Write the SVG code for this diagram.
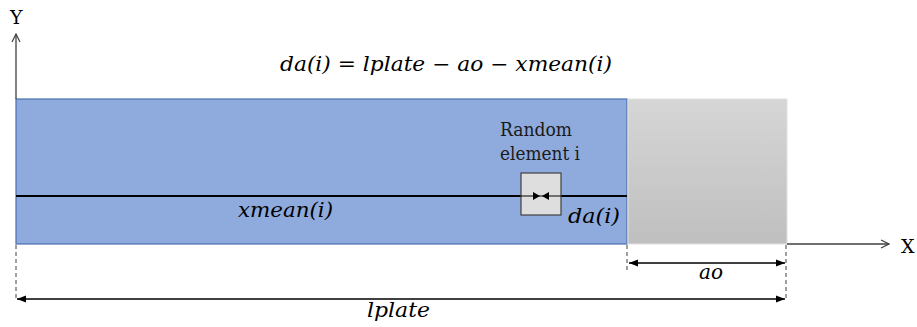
<svg xmlns="http://www.w3.org/2000/svg" width="917" height="327" viewBox="0 0 917 327">
  <defs>
    <linearGradient id="grayGrad" x1="0" y1="0" x2="0" y2="1">
      <stop offset="0" stop-color="#d6d6d6"/>
      <stop offset="1" stop-color="#bfbfbf"/>
    </linearGradient>
    <marker id="openArrow" viewBox="0 0 10 10" refX="9" refY="5" markerWidth="10" markerHeight="10" markerUnits="userSpaceOnUse" orient="auto">
      <path d="M1,1 L9,5 L1,9" fill="none" stroke="#404040" stroke-width="1.2"/>
    </marker>
    <marker id="solidArrow" viewBox="0 0 10 10" refX="10" refY="5" markerWidth="9" markerHeight="9" markerUnits="userSpaceOnUse" orient="auto-start-reverse">
      <path d="M0,1 L10,5 L0,9 Z" fill="#000"/>
    </marker>
  </defs>
  <style>
    .math { font-family: "DejaVu Serif", "Liberation Serif", serif; font-style: italic; fill: #000; }
    .label { font-family: "DejaVu Serif", "Liberation Serif", serif; fill: #1a1a1a; }
    .axisLabel { font-family: "DejaVu Serif", "Liberation Serif", serif; font-size: 19px; fill: #000; }
    .axis { stroke: #404040; stroke-width: 1.3; fill: none; }
    .dash { stroke: #404040; stroke-width: 1; stroke-dasharray: 4,3; fill: none; }
    .dim { stroke: #000; stroke-width: 1.5; fill: none; }
  </style>

  <g id="plate">
    <rect x="16" y="99" width="611" height="145" fill="#8faadc" stroke="#4a6fb0" stroke-width="1.2"/>
  </g>
  <g id="crack">
    <rect x="628" y="99" width="159" height="145" fill="url(#grayGrad)" stroke="#e0e0e0" stroke-width="1"/>
  </g>

  <g id="connectors">
    <line class="axis" x1="16" y1="99" x2="16" y2="34" marker-end="url(#openArrow)"/>
    <line class="axis" x1="787" y1="244" x2="889" y2="244" marker-end="url(#openArrow)"/>
    <line x1="16" y1="196" x2="627" y2="196" stroke="#000" stroke-width="1.8"/>
    <line class="dash" x1="16" y1="245" x2="16" y2="300"/>
    <line class="dash" x1="627" y1="245" x2="627" y2="272"/>
    <line class="dash" x1="786" y1="245" x2="786" y2="300"/>
    <line class="dim" x1="629" y1="263" x2="785" y2="263" marker-start="url(#solidArrow)" marker-end="url(#solidArrow)"/>
    <line class="dim" x1="17" y1="299" x2="785" y2="299" marker-start="url(#solidArrow)" marker-end="url(#solidArrow)"/>
  </g>

  <g id="element">
    <rect x="521" y="173" width="40" height="42" fill="#dedede" stroke="#404040" stroke-width="1.2"/>
    <line x1="521" y1="196" x2="561" y2="196" stroke="#000" stroke-width="1.2"/>
    <path d="M533,192 L540,196 L533,200 Z" fill="#000"/>
    <path d="M549,192 L542,196 L549,200 Z" fill="#000"/>
    <text class="label" x="500" y="136" font-size="18" textLength="72" lengthAdjust="spacingAndGlyphs">Random</text>
    <text class="label" x="500" y="160" font-size="18" textLength="80" lengthAdjust="spacingAndGlyphs">element i</text>
  </g>

  <g id="labels">
    <text class="axisLabel" x="10" y="24">Y</text>
    <text class="axisLabel" x="901" y="253">X</text>
    <text class="math" x="280" y="71" font-size="20" textLength="332" lengthAdjust="spacingAndGlyphs">da(i) = lplate − ao − xmean(i)</text>
    <text class="math" x="238" y="217" font-size="20" textLength="95" lengthAdjust="spacingAndGlyphs">xmean(i)</text>
    <text class="math" x="568" y="223" font-size="20" textLength="52" lengthAdjust="spacingAndGlyphs">da(i)</text>
    <text class="math" x="699" y="279" font-size="20" textLength="24" lengthAdjust="spacingAndGlyphs">ao</text>
    <text class="math" x="367" y="317" font-size="20" textLength="63" lengthAdjust="spacingAndGlyphs">lplate</text>
  </g>
</svg>
